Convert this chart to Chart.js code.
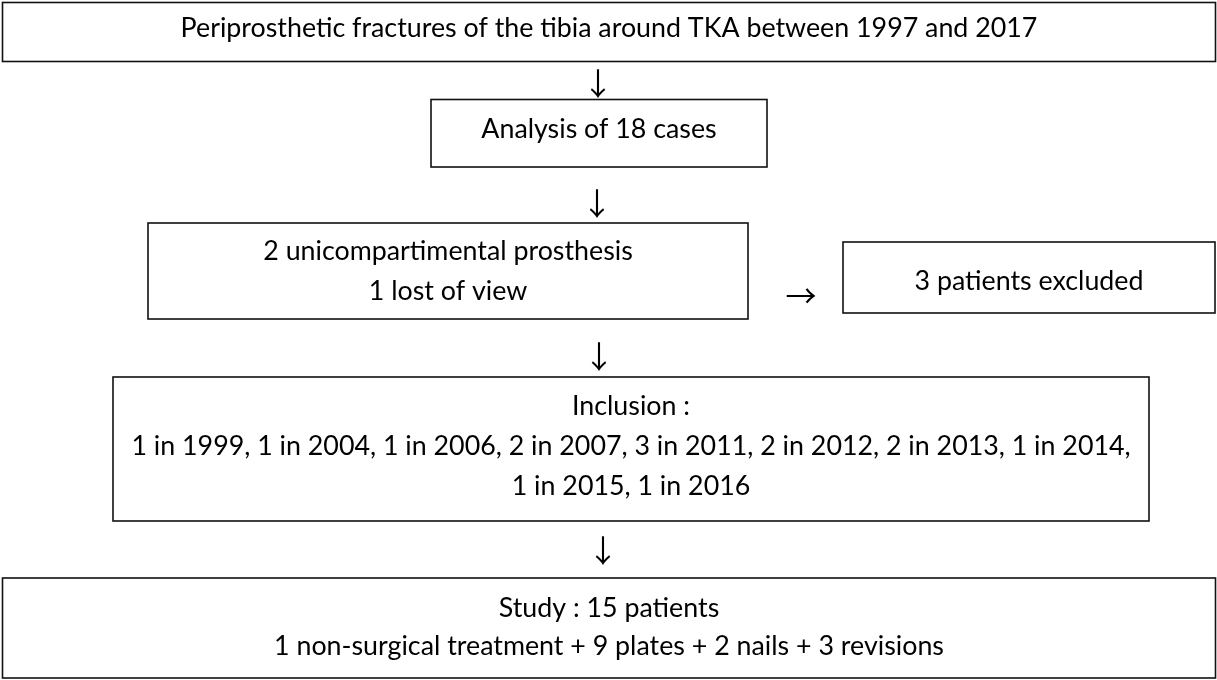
<!DOCTYPE html>
<html>
<head>
<meta charset="utf-8">
<script src="https://cdn.jsdelivr.net/npm/chart.js@4"></script>
<style>
  html, body { margin: 0; padding: 0; background: #fff; }
  #wrap { width: 1217px; height: 680px; position: relative; }
</style>
</head>
<body>
<div id="wrap"><canvas id="flow"></canvas></div>
<script>
// box texts of the flow chart
const titleLines = ["Periprosthetic fractures of the tibia around TKA between 1997 and 2017"];
const analysisLines = ["Analysis of 18 cases"];
const removedLines = ["2 unicompartimental prosthesis", "1 lost of view"];
const excludedLines = ["3 patients excluded"];
const inclusionLines = [
    "Inclusion :",
    "1 in 1999, 1 in 2004, 1 in 2006, 2 in 2007, 3 in 2011, 2 in 2012, 2 in 2013, 1 in 2014,",
    "1 in 2015, 1 in 2016"
];
const studyLines = ["Study : 15 patients", "1 non-surgical treatment + 9 plates + 2 nails + 3 revisions"];
const downArrow = "\u2193";
const rightArrow = "\u2192";

// layout, in chart units (x 0..1217, y 0..680 from the top)
const boxes = [
    { lines: titleLines, x0: 2.5, x1: 1215.5, y0: 2.5, y1: 61.5, base: 37, step: 0 },
    { lines: analysisLines, x0: 431, x1: 767, y0: 99.5, y1: 167, base: 138, step: 0 },
    { lines: removedLines, x0: 148, x1: 748, y0: 223, y1: 319, base: 260, step: 40 },
    { lines: excludedLines, x0: 843, x1: 1215, y0: 242, y1: 313, base: 290, step: 0 },
    { lines: inclusionLines, x0: 113, x1: 1149, y0: 377, y1: 521, base: 415, step: 40 },
    { lines: studyLines, x0: 2.5, x1: 1215.5, y0: 578, y1: 678, base: 617, step: 38 }
];
const arrows = [
    { glyph: downArrow, x: 598, y: 83 },
    { glyph: downArrow, x: 597, y: 203 },
    { glyph: rightArrow, x: 801, y: 295 },
    { glyph: downArrow, x: 599, y: 356 },
    { glyph: downArrow, x: 603, y: 550 }
];

const textFamily = 'Lato, "Open Sans", sans-serif';

const flowPlugin = {
    id: "flow",
    afterDatasetsDraw(chart) {
        const ctx = chart.ctx;
        const xs = chart.scales.x;
        const ys = chart.scales.y;

        // fit the font so the title line is as wide as in the source
        ctx.save();
        ctx.font = "100px " + textFamily;
        const w = ctx.measureText(titleLines[0]).width;
        const size = Math.round(100 * 858 / w * 10) / 10;
        ctx.restore();

        ctx.save();
        ctx.strokeStyle = "#111";
        ctx.lineWidth = 1.6;
        ctx.fillStyle = "#000";
        ctx.font = size + "px " + textFamily;
        ctx.textAlign = "center";
        ctx.textBaseline = "alphabetic";
        boxes.forEach(b => {
            const l = xs.getPixelForValue(b.x0);
            const r = xs.getPixelForValue(b.x1);
            const t = ys.getPixelForValue(b.y0);
            const btm = ys.getPixelForValue(b.y1);
            ctx.strokeRect(l, t, r - l, btm - t);
            const cx = (l + r) / 2;
            b.lines.forEach((txt, i) => {
                ctx.fillText(txt, cx, ys.getPixelForValue(b.base + i * b.step));
            });
        });

        ctx.font = '31px "Noto Sans CJK SC", "DejaVu Sans", sans-serif';
        ctx.textBaseline = "middle";
        arrows.forEach(a => {
            ctx.fillText(a.glyph, xs.getPixelForValue(a.x), ys.getPixelForValue(a.y));
        });
        ctx.restore();
    }
};

new Chart(document.getElementById("flow").getContext("2d"), {
    type: "scatter",
    data: { datasets: [{ data: [], pointRadius: 0 }] },
    options: {
        responsive: true,
        maintainAspectRatio: false,
        animation: false,
        layout: { padding: 0 },
        plugins: { legend: { display: false }, tooltip: { enabled: false } },
        scales: {
            x: { type: "linear", min: 0, max: 1217, display: false },
            y: { type: "linear", min: 0, max: 680, reverse: true, display: false }
        }
    },
    plugins: [flowPlugin]
});
</script>
</body>
</html>
